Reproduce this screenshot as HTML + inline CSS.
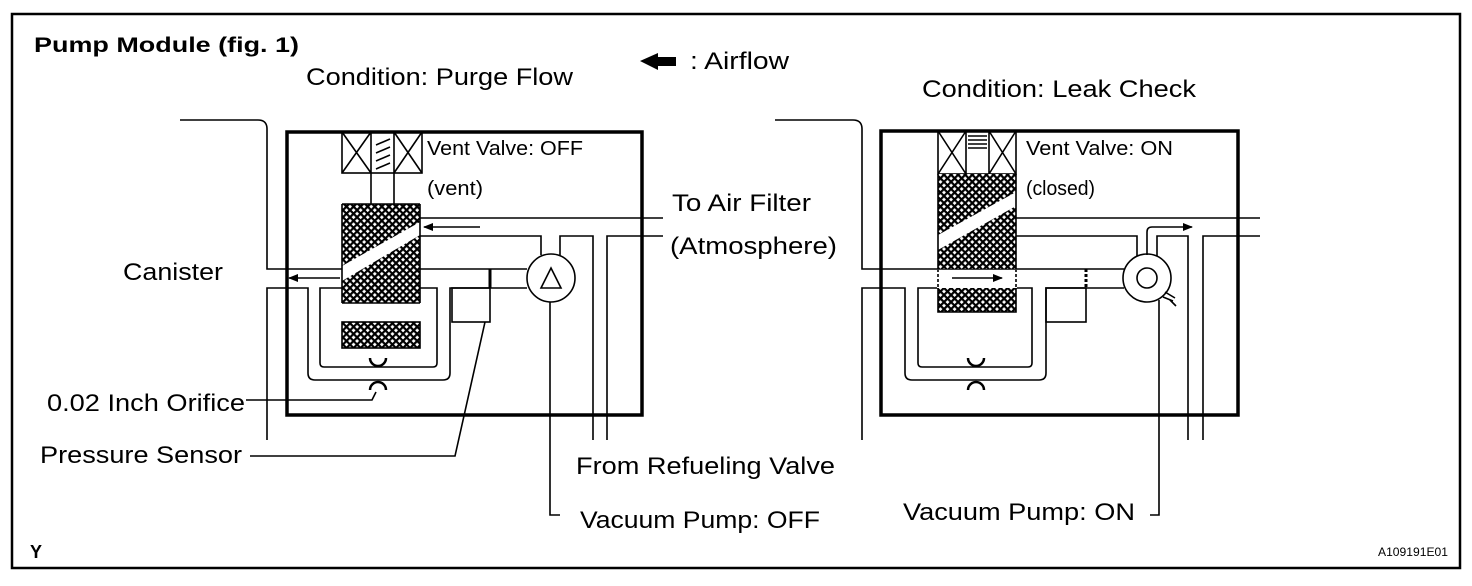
<!DOCTYPE html>
<html><head><style>body{margin:0;background:#fff}svg{display:block}</style></head><body>
<svg width="1472" height="586" viewBox="0 0 1472 586" xmlns="http://www.w3.org/2000/svg" font-family="Liberation Sans, Arial, sans-serif">
<defs>
<pattern id="h" width="5" height="5" patternUnits="userSpaceOnUse" patternTransform="rotate(45)">
<rect width="5" height="5" fill="#fff"/><rect width="2.2" height="5" fill="#000"/><rect width="5" height="2.2" fill="#000"/></pattern>
<marker id="a" markerWidth="10" markerHeight="8" refX="9" refY="4" orient="auto" markerUnits="userSpaceOnUse"><path d="M0,0 L10,4 L0,8 z"/></marker>
</defs>
<rect x="12" y="14" width="1448" height="554" fill="#fff" stroke="#000" stroke-width="2.5"/>
<g font-size="24" fill="#000">
<text x="34" y="52" font-weight="bold" font-size="21" textLength="265" lengthAdjust="spacingAndGlyphs">Pump Module (fig. 1)</text>
<text x="306" y="85" textLength="267" lengthAdjust="spacingAndGlyphs">Condition: Purge Flow</text>
<text x="690" y="69" textLength="99" lengthAdjust="spacingAndGlyphs">: Airflow</text>
<text x="922" y="97" textLength="274" lengthAdjust="spacingAndGlyphs">Condition: Leak Check</text>
<text x="123" y="280" textLength="100" lengthAdjust="spacingAndGlyphs">Canister</text>
<text x="672" y="211" textLength="139" lengthAdjust="spacingAndGlyphs">To Air Filter</text>
<text x="670" y="254" textLength="167" lengthAdjust="spacingAndGlyphs">(Atmosphere)</text>
<text x="47" y="411" textLength="198" lengthAdjust="spacingAndGlyphs">0.02 Inch Orifice</text>
<text x="40" y="463" textLength="202" lengthAdjust="spacingAndGlyphs">Pressure Sensor</text>
<text x="576" y="474" textLength="259" lengthAdjust="spacingAndGlyphs">From Refueling Valve</text>
<text x="580" y="528" textLength="240" lengthAdjust="spacingAndGlyphs">Vacuum Pump: OFF</text>
<text x="903" y="520" textLength="232" lengthAdjust="spacingAndGlyphs">Vacuum Pump: ON</text>
<text x="30" y="558" font-weight="bold" font-size="18">Y</text>
<text x="1378" y="556" font-size="12" textLength="70" lengthAdjust="spacingAndGlyphs">A109191E01</text>
<text x="427" y="155" font-size="20" textLength="156" lengthAdjust="spacingAndGlyphs">Vent Valve: OFF</text>
<text x="427" y="195" font-size="20" textLength="56" lengthAdjust="spacingAndGlyphs">(vent)</text>
<text x="1026" y="155" font-size="20" textLength="147" lengthAdjust="spacingAndGlyphs">Vent Valve: ON</text>
<text x="1026" y="195" font-size="20" textLength="69" lengthAdjust="spacingAndGlyphs">(closed)</text>
</g>
<path d="M640,61 L658,53 L658,57 L676,57 L676,66 L658,66 L658,70 z" fill="#000"/>
<g fill="none" stroke="#000" stroke-width="1.6">
<rect x="287" y="132" width="355" height="283" stroke-width="3.5"/>
<path d="M180,120 H258 Q267,120 267,129 V269 H342"/>
<path d="M267,440 V288 H308 V373 Q308,380 315,380 H443 Q450,380 450,373 V288 H527"/>
<path d="M342,288 H320 V363 Q320,367 324,367 H433 Q437,367 437,363 V288 H420"/>
<path d="M420,269 H527"/>
<rect x="452" y="288" width="38" height="34"/>
<path d="M490,269 V288" stroke-width="3"/>
<path d="M420,218 H663 M420,236 H541 V255 M560,255 V236 H593 V440 M607,440 V236 H663"/>
<circle cx="551" cy="278" r="24" fill="#fff"/>
<path d="M551,268 L561,288 L541,288 z"/>
<path d="M550,302 V515 H560"/>
<path d="M485,322 L455,456 H250"/>
<path d="M246,400 H372 L376,392"/>
<path d="M370,358 a8,8 0 0 0 16,0 M370,390 a8,8 0 0 1 16,0" stroke-width="2.5"/>
<rect x="342" y="132" width="80" height="41"/>
<path d="M371,132 V173 M394,132 V173 M342,132 L371,173 M371,132 L342,173 M394,132 L422,173 M422,132 L394,173 M376,145 L390,139 M376,153 L390,147 M376,161 L390,155 M376,169 L390,163 M371,173 V204 M394,173 V204"/>
<rect x="342" y="204" width="78" height="99" fill="url(#h)" stroke="none"/>
<path d="M342,266 L420,222 L420,235 L342,281 z" fill="#fff" stroke="none"/>
<rect x="342" y="303" width="78" height="19" fill="#fff" stroke="none"/>
<rect x="342" y="322" width="78" height="26" fill="url(#h)" stroke="#000"/>
<path d="M342,204 H420 M342,204 V303 M420,204 V303 M342,303 H420" />
<path d="M480,227 H424" marker-end="url(#a)"/>
<path d="M340,278 H289" marker-end="url(#a)"/>
<rect x="881" y="131" width="357" height="284" stroke-width="3.5"/>
<path d="M775,120 H853 Q862,120 862,129 V269 H1124"/>
<path d="M862,440 V288 H905 V373 Q905,380 912,380 H1039 Q1046,380 1046,373 V288 H1124"/>
<path d="M938,288 H918 V363 Q918,367 922,367 H1028 Q1032,367 1032,363 V288 H1016"/>
<rect x="1046" y="288" width="40" height="34"/>
<path d="M1086,269 V288" stroke-width="3" stroke-dasharray="3,2"/>
<path d="M1016,218 H1260 M1016,236 H1137 V256 M1157,256 V236 H1188 V440 M1203,440 V236 H1260"/>
<circle cx="1147" cy="278" r="24" fill="#fff"/>
<circle cx="1147" cy="278" r="10"/>
<path d="M1159,300 V515 H1150"/>
<path d="M1163,297 l10,4 M1165,292 l10,6 M1170,300 l6,6"/>
<path d="M1147,255 V232 Q1147,227 1152,227 H1192" marker-end="url(#a)"/>
<path d="M968,358 a8,8 0 0 0 16,0 M968,390 a8,8 0 0 1 16,0" stroke-width="2.5"/>
<rect x="938" y="131" width="78" height="43"/>
<path d="M966,131 V174 M989,131 V174 M938,131 L966,174 M966,131 L938,174 M989,131 L1016,174 M1016,131 L989,174 M968,136 H987 M968,140 H987 M968,144 H987 M968,148 H987"/>
<rect x="938" y="174" width="78" height="95" fill="url(#h)" stroke="none"/>
<path d="M938,235 L1016,192 L1016,206 L938,250 z" fill="#fff" stroke="none"/>
<rect x="938" y="288" width="78" height="24" fill="url(#h)" stroke="none"/>
<path d="M938,174 V312 H1016 V174" />
<path d="M938,269 V288 M1016,269 V288" stroke="#fff" stroke-width="2"/>
<path d="M938,269 V288 M1016,269 V288" stroke-dasharray="3,2"/>
<path d="M952,278 H1002" marker-end="url(#a)"/>
</g>
</svg>
</body></html>
